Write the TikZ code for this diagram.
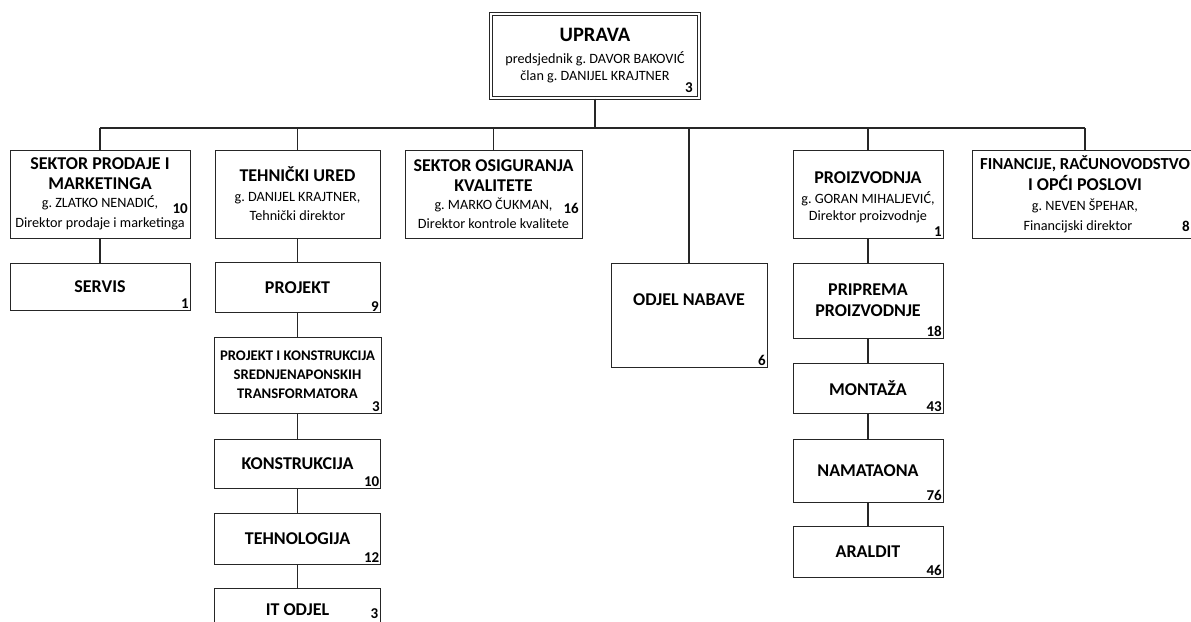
\documentclass[tikz,border=0pt]{standalone}
\usepackage{fontspec}
\setmainfont{Carlito}
\usetikzlibrary{positioning}
\frenchspacing
\newcommand{\mali}{\mdseries\fontsize{14.2}{16}\selectfont}
\newcommand{\veliki}{\fontsize{20.5}{24}\selectfont}

\begin{document}
\begin{tikzpicture}
      [
        x = 1pt, y = -1pt,
        okvir/.style = {draw=black!85, line width=1pt, fill=white, align=center, inner sep=1pt,
            font=\bfseries\fontsize{18}{21}\selectfont},
        broj/.style = {font=\bfseries\fontsize{15}{15}\selectfont, inner sep=1.5pt, anchor=south east},
        veza/.style = {draw=black!85, line width=1.2pt}
      ]

      \clip (0,0) rectangle (1191,621);
      \fill[white] (0,0) rectangle (1191,621);

      % uprava
      \node[okvir, double, double distance=1.6pt, minimum width=208pt, minimum height=84pt] (uprava) at (595,56)
        {{\veliki UPRAVA}\\[1pt] {\mali predsjednik g. DAVOR BAKOVIĆ}\\[-4pt] {\mali član g. DANIJEL KRAJTNER}};
      \node[broj] (buprava) at ([shift={(-5,-4)}]uprava.south east) {3};

      % sektori
      \node[okvir, minimum width=180pt, minimum height=88pt] (prodaja) at (100,194)
        {SEKTOR PRODAJE I\\[-1pt] MARKETINGA\\[-3pt] {\mali g. ZLATKO NENADIĆ,}\\[-1pt] {\mali Direktor prodaje i marketinga}};
      \node[broj, anchor=east, inner sep=0.5pt] (bprodaja) at ([shift={(-2,15)}]prodaja.east) {10};

      \node[okvir, minimum width=165pt, minimum height=88pt] (tehnicki) at (297.5,194)
        {TEHNIČKI URED\\[-1pt] {\mali g. DANIJEL KRAJTNER,}\\[-2pt] {\mali Tehnički direktor}};

      \node[okvir, minimum width=177pt, minimum height=88pt] (kvaliteta) at (493.5,194)
        {SEKTOR OSIGURANJA\\[-1pt] KVALITETE\\[-3pt] {\mali g. MARKO ČUKMAN,}\\[-2pt] {\mali Direktor kontrole kvalitete}};
      \node[broj, anchor=east, inner sep=0.5pt] (bkvaliteta) at ([shift={(-3,14)}]kvaliteta.east) {16};

      \node[okvir, minimum width=156pt, minimum height=104pt, text depth=30pt] (nabava) at (689,315)
        {ODJEL NABAVE};
      \node[broj] (bnabava) at (nabava.south east) {6};

      \node[okvir, minimum width=150pt, minimum height=88pt] (proizvodnja) at (868,194) {};
      \node[align=center, inner sep=0pt, font=\bfseries\fontsize{18}{21}\selectfont] (tproizvodnja) at ([yshift=-3pt]proizvodnja.center)
        {PROIZVODNJA\\[-1pt] {\mali g. GORAN MIHALJEVIĆ,}\\[-4pt] {\mali Direktor proizvodnje}};
      \node[broj] (bproizvodnja) at (proizvodnja.south east) {1};

      \node[okvir, minimum width=226pt, minimum height=88pt] (financije) at (1085,194)
        {{\fontsize{16.8}{21}\selectfont FINANCIJE, RAČUNOVODSTVO}\\[0pt] I OPĆI POSLOVI\\[-1pt]
         {\mali g. NEVEN ŠPEHAR,}\\[-1pt] {\mali Financijski direktor\kern14pt}};
      \node[broj, anchor=east] (bfinancije) at ([shift={(-7,32)}]financije.east) {8};

      % odjeli
      \node[okvir, minimum width=180pt, minimum height=47pt] (servis) at (100,286.5) {SERVIS};
      \node[broj] (bservis) at (servis.south east) {1};

      \node[okvir, minimum width=165pt, minimum height=50pt] (projekt) at (297.5,287.5) {PROJEKT};
      \node[broj] (bprojekt) at (projekt.south east) {9};

      \node[okvir, minimum width=167pt, minimum height=76pt, font=\bfseries\fontsize{14.7}{19}\selectfont] (pkst) at (297.5,375)
        {PROJEKT I KONSTRUKCIJA\\ SREDNJENAPONSKIH\\ TRANSFORMATORA};
      \node[broj] (bpkst) at (pkst.south east) {3};

      \node[okvir, minimum width=166pt, minimum height=49pt] (konstrukcija) at (297.5,463.5) {KONSTRUKCIJA};
      \node[broj] (bkonstrukcija) at (konstrukcija.south east) {10};

      \node[okvir, minimum width=166pt, minimum height=51pt] (tehnologija) at (297.5,538.5) {TEHNOLOGIJA};
      \node[broj] (btehnologija) at (tehnologija.south east) {12};

      \node[okvir, minimum width=166pt, minimum height=44pt] (itodjel) at (297.5,610) {IT ODJEL};
      \node[broj, anchor=east] (bitodjel) at ([shift={(-1,4)}]itodjel.east) {3};

      \node[okvir, minimum width=150pt, minimum height=75pt] (priprema) at (868,300.5) {PRIPREMA\\ PROIZVODNJE};
      \node[broj] (bpriprema) at (priprema.south east) {18};

      \node[okvir, minimum width=150pt, minimum height=50pt] (montaza) at (868,388) {MONTAŽA};
      \node[broj] (bmontaza) at (montaza.south east) {43};

      \node[okvir, minimum width=150pt, minimum height=63pt] (namataona) at (868,470.5) {NAMATAONA};
      \node[broj] (bnamataona) at (namataona.south east) {76};

      \node[okvir, minimum width=150pt, minimum height=51pt] (araldit) at (868,551.5) {ARALDIT};
      \node[broj] (baraldit) at (araldit.south east) {46};

      % veze
      \coordinate (sabirnica) at (0,128);
      \draw[veza] (uprava.south) -- (uprava |- sabirnica);
      \draw[veza] (prodaja |- sabirnica) -- (financije |- sabirnica);
      \foreach \s in {prodaja,tehnicki,kvaliteta,nabava,proizvodnja,financije}
        \draw[veza] (\s.north) -- (\s |- sabirnica);
      \foreach \a/\b in {prodaja/servis, tehnicki/projekt, projekt/pkst, pkst/konstrukcija,
          konstrukcija/tehnologija, tehnologija/itodjel, proizvodnja/priprema,
          priprema/montaza, montaza/namataona, namataona/araldit}
        \draw[veza] (\a) -- (\b);

    \end{tikzpicture}
\end{document}
